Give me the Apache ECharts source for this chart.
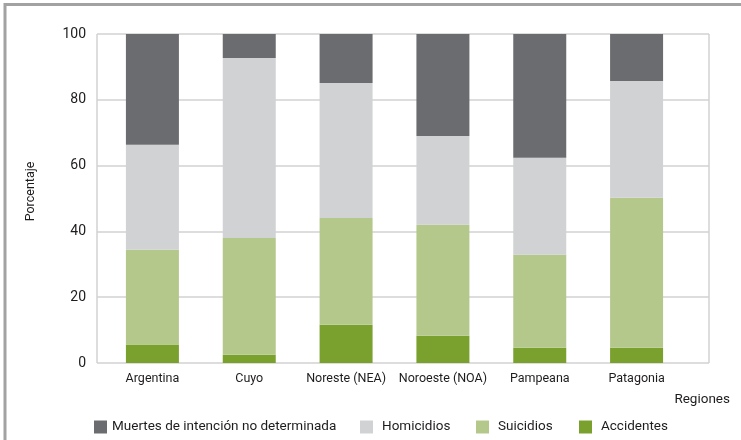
<!DOCTYPE html>
<html><head><meta charset="utf-8">
<script src="https://cdn.jsdelivr.net/npm/echarts@6/dist/echarts.min.js"></script>
<style>html,body{margin:0;padding:0;background:#fff}#c{width:741px;height:440px}</style>
</head><body><div id="c"></div>
<script>
const categories = ['Argentina', 'Cuyo', 'Noreste (NEA)', 'Noroeste (NOA)', 'Pampeana', 'Patagonia'];
const accidentes = [5.6, 2.5, 11.6, 8.3, 4.6, 4.6];
const suicidios = [28.8, 35.5, 32.5, 33.7, 28.3, 45.6];
const homicidios = [31.9, 54.7, 41.0, 27.0, 29.5, 35.5];
const muertes = [33.7, 7.3, 14.9, 31.0, 37.6, 14.3];
const yTicks = [0, 20, 40, 60, 80, 100];
const legendNames = ['Muertes de intención no determinada', 'Homicidios', 'Suicidios', 'Accidentes'];

const FONT = 'Roboto, "Liberation Sans", sans-serif';
const TXT = '#1f1c1d';
const GRID = '#d2d2d2';
const legendLeft = [94, 360, 476, 579];
const legendPad = [0, 4, 4, 4];

const chart = echarts.init(document.getElementById('c'), null, {renderer: 'canvas'});
chart.setOption({
  animation: false,
  textStyle: {fontFamily: FONT},
  grid: [
    {left: 97, right: 32, top: 34, bottom: 77, containLabel: false},
    {left: 104, right: 56, top: 34, bottom: 77, containLabel: false}
  ],
  xAxis: [
    {gridIndex: 0, type: 'value', min: 0, max: 1, interval: 1, axisLabel: {show: false}, axisTick: {show: false}, axisLine: {show: false},
     splitLine: {show: true, lineStyle: {color: GRID, width: 1.5}}},
    {gridIndex: 1, type: 'category', data: categories, axisTick: {show: false}, axisLine: {show: false},
     axisLabel: {interval: 0, margin: 9, fontSize: 12.5, color: TXT, fontFamily: FONT}}
  ],
  yAxis: [
    {gridIndex: 0, type: 'value', min: 0, max: 100, interval: 20, axisTick: {show: false},
     axisLine: {show: false},
     axisLabel: {margin: 11, fontSize: 14, color: TXT, fontFamily: FONT, formatter: v => yTicks.includes(v) ? String(v) : ''},
     splitLine: {show: true, lineStyle: {color: GRID, width: 1.5}},
     name: 'Porcentaje', nameLocation: 'middle', nameRotate: 90, nameGap: 60,
     nameTextStyle: {fontSize: 12.5, color: TXT, fontFamily: FONT, padding: [0, 0, 0, 14]}},
    {gridIndex: 1, type: 'value', min: 0, max: 100, show: false}
  ],
  legend: legendNames.map((n, i) => ({
    data: [n], left: legendLeft[i], top: 420, padding: 0, itemWidth: 13, itemHeight: 13, icon: 'rect',
    textStyle: {fontSize: 13.5, color: TXT, fontFamily: FONT, padding: [0, 0, 0, legendPad[i]]}
  })),
  graphic: [
    {type: 'text', right: 11, top: 393, style: {text: 'Regiones', font: '13.5px ' + FONT, fill: TXT}},
    {type: 'line', shape: {x1: 4, y1: 4.5, x2: 741, y2: 4.5}, style: {stroke: '#a2a2a2', lineWidth: 3}},
    {type: 'line', shape: {x1: 5, y1: 3, x2: 5, y2: 440}, style: {stroke: '#a2a2a2', lineWidth: 3}}
  ],
  series: [
    {name: 'Accidentes', type: 'bar', stack: 's', xAxisIndex: 1, yAxisIndex: 1, barWidth: 53, data: accidentes, itemStyle: {color: '#7aa12e'}},
    {name: 'Suicidios', type: 'bar', stack: 's', xAxisIndex: 1, yAxisIndex: 1, barWidth: 53, data: suicidios, itemStyle: {color: '#b5c88c'}},
    {name: 'Homicidios', type: 'bar', stack: 's', xAxisIndex: 1, yAxisIndex: 1, barWidth: 53, data: homicidios, itemStyle: {color: '#d1d2d4'}},
    {name: 'Muertes de intención no determinada', type: 'bar', stack: 's', xAxisIndex: 1, yAxisIndex: 1, barWidth: 53, data: muertes, itemStyle: {color: '#6b6c70'}}
  ]
});
</script></body></html>
